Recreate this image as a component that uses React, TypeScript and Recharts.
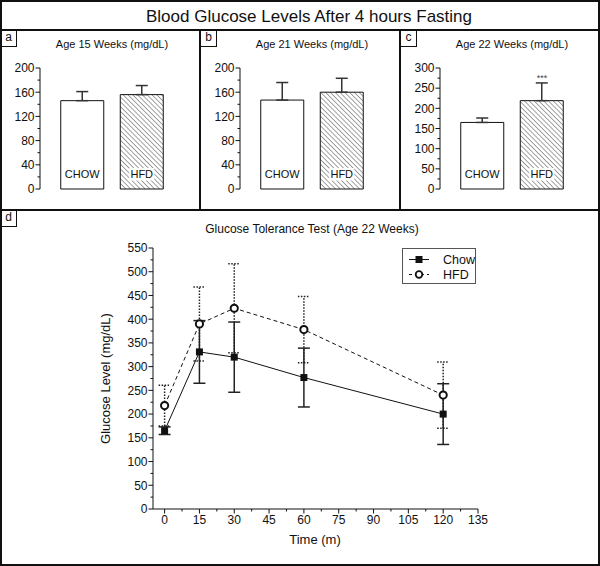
import React from "react";
import {
  BarChart,
  Bar,
  Cell,
  XAxis,
  YAxis,
  ErrorBar,
  LabelList,
  ReferenceDot,
  LineChart,
  Line,
  Legend,
} from "recharts";

const FONT = "'Liberation Sans', Arial, sans-serif";
const INK = "#111";

// fasting glucose, bars
const groups = ["CHOW", "HFD"];
const week15Mean = [146, 156];
const week15Err = [15, 15];
const week21Mean = [147, 160];
const week21Err = [29, 23];
const week22Mean = [165, 219];
const week22Err = [11, 44];
const week22Sig = ["", "***"];

const ticks200 = [0, 20, 40, 60, 80, 100, 120, 140, 160, 180, 200];
const ticks300 = [0, 25, 50, 75, 100, 125, 150, 175, 200, 225, 250, 275, 300];

// glucose tolerance test
const gttTime = [0, 15, 30, 60, 120];
const gttChow = [165, 331, 320, 277, 200];
const gttChowErr = [8, 66, 74, 62, 64];
const gttHfd = [218, 390, 423, 378, 240];
const gttHfdErr = [43, 78, 94, 70, 70];

const gttYTicks = [
  0, 25, 50, 75, 100, 125, 150, 175, 200, 225, 250, 275, 300, 325, 350, 375,
  400, 425, 450, 475, 500, 525, 550,
];
const gttXTicks = [
  0, 7.5, 15, 22.5, 30, 37.5, 45, 52.5, 60, 67.5, 75, 82.5, 90, 97.5, 105,
  112.5, 120, 127.5, 135,
];

function YTick(props: any) {
  const { x, y, payload, step } = props;
  const major = payload.value % step === 0;
  return (
    <g>
      <line x1={x - (major ? 4.5 : 2.5)} x2={x} y1={y} y2={y} stroke={INK} />
      {major && (
        <text
          x={x - 5.5}
          y={y}
          dy="0.36em"
          textAnchor="end"
          fontSize={12}
          fill={INK}
          fontFamily={FONT}
        >
          {payload.value}
        </text>
      )}
    </g>
  );
}

function XTick(props: any) {
  const { x, y, payload } = props;
  const major = payload.value % 15 === 0;
  return (
    <g>
      <line x1={x} x2={x} y1={y} y2={y + (major ? 4.5 : 2.5)} stroke={INK} />
      {major && (
        <text
          x={x}
          y={y + 14.5}
          textAnchor="middle"
          fontSize={12}
          fill={INK}
          fontFamily={FONT}
        >
          {payload.value}
        </text>
      )}
    </g>
  );
}

function BarTag(props: any) {
  const { x, y, width, height, value } = props;
  const cx = x + width / 2;
  const bottom = y + height;
  const w = String(value).length * 7 + 4;
  return (
    <g>
      <rect x={cx - w / 2} y={bottom - 21} width={w} height={12.5} fill="#fff" />
      <text
        x={cx}
        y={bottom - 11.5}
        textAnchor="middle"
        fontSize={11}
        fill={INK}
        fontFamily={FONT}
      >
        {value}
      </text>
    </g>
  );
}

function Letter({ ch, top }: { ch: string; top: number }) {
  return (
    <div
      style={{
        position: "absolute",
        left: 0,
        top,
        width: 17,
        height: 17,
        boxSizing: "border-box",
        border: `1.5px solid ${INK}`,
        fontSize: 12,
        lineHeight: "13px",
        textAlign: "center",
        fontFamily: FONT,
        color: INK,
        background: "#fff",
      }}
    >
      {ch}
    </div>
  );
}

function BarPanel(props: any) {
  const { left, letter, title, means, errs, ticks, step, max, sig, id } = props;
  const data = groups.map((name, i) => ({
    name,
    value: means[i],
    err: [0, errs[i]],
  }));
  return (
    <div style={{ position: "absolute", left, top: 30, width: 200, height: 180 }}>
      <div
        style={{
          position: "absolute",
          left: 12,
          top: 7.5,
          width: 200,
          textAlign: "center",
          fontSize: 11,
          lineHeight: "13px",
          fontFamily: FONT,
          color: INK,
        }}
      >
        {title}
      </div>
      <BarChart
        width={200}
        height={180}
        data={data}
        margin={{ top: 38, right: 10, bottom: 21, left: 0 }}
      >
        <defs>
          <pattern
            id={id}
            patternUnits="userSpaceOnUse"
            width={3.4}
            height={3.4}
            patternTransform="rotate(-45)"
          >
            <rect width={3.4} height={3.4} fill="#fff" />
            <line x1={0} y1={0} x2={0} y2={3.4} stroke="#555" strokeWidth={1.1} />
          </pattern>
        </defs>
        <XAxis
          dataKey="name"
          tick={false}
          tickLine={false}
          height={0}
          padding={{ left: 12.75, right: 18.25 }}
          stroke={INK}
        />
        <YAxis
          width={40}
          domain={[0, max]}
          ticks={ticks}
          interval={0}
          tickSize={0}
          tickMargin={0}
          tickLine={false}
          tick={(p: any) => <YTick {...p} step={step} />}
          stroke={INK}
        />
        <Bar dataKey="value" barSize={43} stroke={INK} isAnimationActive={false}>
          {data.map((_, i) => (
            <Cell key={i} fill={i === 0 ? "#fff" : `url(#${id})`} />
          ))}
          <ErrorBar dataKey="err" width={6} stroke="#333" direction="y" />
          <LabelList dataKey="name" content={BarTag} />
        </Bar>
        {sig && (
          <ReferenceDot
            x={groups[1]}
            y={means[1] + errs[1]}
            r={0}
            label={{
              value: sig[1],
              position: "top",
              offset: 2,
              fontSize: 9,
              fill: "#444",
              fontFamily: FONT,
            }}
          />
        )}
      </BarChart>
      <Letter ch={letter} top={0} />
    </div>
  );
}

function GttLegend(props: any) {
  const { payload = [] } = props;
  return (
    <div
      style={{
        width: 74,
        height: 36,
        boxSizing: "border-box",
        border: "1px solid #555",
        background: "#fff",
        paddingTop: 3,
        fontFamily: FONT,
        fontSize: 12.5,
        color: INK,
      }}
    >
      {payload.map((item: any, i: number) => (
        <div key={i} style={{ display: "flex", alignItems: "center", height: 15 }}>
          <svg width={38} height={15}>
            <line
              x1={6}
              x2={26}
              y1={7.5}
              y2={7.5}
              stroke={INK}
              strokeDasharray={i === 1 ? "3 3" : undefined}
            />
            {i === 0 ? (
              <rect x={12.5} y={4} width={7} height={7} fill={INK} />
            ) : (
              <circle cx={16} cy={7.5} r={3.3} fill="#fff" stroke={INK} strokeWidth={1.8} />
            )}
          </svg>
          <span style={{ marginLeft: 2 }}>{item.value}</span>
        </div>
      ))}
    </div>
  );
}

function SquareDot(props: any) {
  const { cx, cy, index } = props;
  return <rect key={index} x={cx - 3.5} y={cy - 3.5} width={7} height={7} fill={INK} />;
}

function CircleDot(props: any) {
  const { cx, cy, index } = props;
  return (
    <circle key={index} cx={cx} cy={cy} r={3.6} fill="#fff" stroke={INK} strokeWidth={2} />
  );
}

export default function App() {
  const gttData = gttTime.map((t, i) => ({
    time: t,
    chow: gttChow[i],
    chowErr: gttChowErr[i],
    hfd: gttHfd[i],
    hfdErr: gttHfdErr[i],
  }));

  return (
    <div
      style={{
        position: "absolute",
        left: 0,
        top: 0,
        width: 600,
        height: 566,
        background: "#fff",
        fontFamily: FONT,
      }}
    >
      <div
        style={{
          position: "absolute",
          left: 9,
          top: 6,
          width: 600,
          textAlign: "center",
          fontSize: 17,
          lineHeight: "21px",
          color: INK,
        }}
      >
        Blood Glucose Levels After 4 hours Fasting
      </div>

      <BarPanel
        left={0}
        letter="a"
        title="Age 15 Weeks (mg/dL)"
        means={week15Mean}
        errs={week15Err}
        ticks={ticks200}
        step={40}
        max={200}
        id="hatchA"
      />
      <BarPanel
        left={200}
        letter="b"
        title="Age 21 Weeks (mg/dL)"
        means={week21Mean}
        errs={week21Err}
        ticks={ticks200}
        step={40}
        max={200}
        id="hatchB"
      />
      <BarPanel
        left={400}
        letter="c"
        title="Age 22 Weeks (mg/dL)"
        means={week22Mean}
        errs={week22Err}
        ticks={ticks300}
        step={50}
        max={300}
        sig={week22Sig}
        id="hatchC"
      />

      <div style={{ position: "absolute", left: 0, top: 210, width: 600, height: 356 }}>
        <div
          style={{
            position: "absolute",
            left: 12,
            top: 12,
            width: 600,
            textAlign: "center",
            fontSize: 12,
            lineHeight: "15px",
            color: INK,
          }}
        >
          Glucose Tolerance Test (Age 22 Weeks)
        </div>
        <LineChart
          width={600}
          height={356}
          data={gttData}
          margin={{ top: 38, right: 122, bottom: 12, left: 93 }}
        >
          <XAxis
            dataKey="time"
            type="number"
            domain={[-5, 135]}
            ticks={gttXTicks}
            interval={0}
            tickSize={0}
            tickMargin={0}
            tickLine={false}
            tick={(p: any) => <XTick {...p} />}
            height={45}
            stroke={INK}
          />
          <YAxis
            width={60}
            domain={[0, 550]}
            ticks={gttYTicks}
            interval={0}
            tickSize={0}
            tickMargin={0}
            tickLine={false}
            tick={(p: any) => <YTick {...p} step={50} />}
            stroke={INK}
            label={{
              value: "Glucose Level (mg/dL)",
              angle: -90,
              position: "insideLeft",
              offset: 12,
              fontSize: 13,
              fill: INK,
              stroke: "none",
              fontFamily: FONT,
              style: { textAnchor: "middle" },
            }}
          />
          <Legend
            layout="vertical"
            align="center"
            verticalAlign="middle"
            content={GttLegend}
            wrapperStyle={{ left: 402, top: 38, width: 75, height: 36 }}
          />
          <Line
            name="Chow"
            dataKey="chow"
            stroke={INK}
            strokeWidth={1}
            dot={SquareDot}
            isAnimationActive={false}
          >
            <ErrorBar dataKey="chowErr" width={6} stroke="#222" direction="y" />
          </Line>
          <Line
            name="HFD"
            dataKey="hfd"
            stroke={INK}
            strokeWidth={1}
            strokeDasharray="4 3"
            dot={CircleDot}
            isAnimationActive={false}
          >
            <ErrorBar
              dataKey="hfdErr"
              width={6}
              stroke="#222"
              strokeDasharray="1.5 1.5"
              direction="y"
            />
          </Line>
        </LineChart>
        <div
          style={{
            position: "absolute",
            left: 215,
            top: 322,
            width: 200,
            textAlign: "center",
            fontSize: 13,
            lineHeight: "16px",
            color: INK,
          }}
        >
          Time (m)
        </div>
        <Letter ch="d" top={0} />
      </div>

      {/* frame lines */}
      <div style={{ position: "absolute", left: 0, top: 29, width: 600, height: 2, background: INK }} />
      <div style={{ position: "absolute", left: 0, top: 209, width: 600, height: 2, background: INK }} />
      <div style={{ position: "absolute", left: 199, top: 30, width: 2, height: 180, background: INK }} />
      <div style={{ position: "absolute", left: 399, top: 30, width: 2, height: 180, background: INK }} />
      <div
        style={{
          position: "absolute",
          left: 0,
          top: 0,
          width: 600,
          height: 566,
          boxSizing: "border-box",
          border: `2px solid ${INK}`,
          pointerEvents: "none",
        }}
      />
    </div>
  );
}
